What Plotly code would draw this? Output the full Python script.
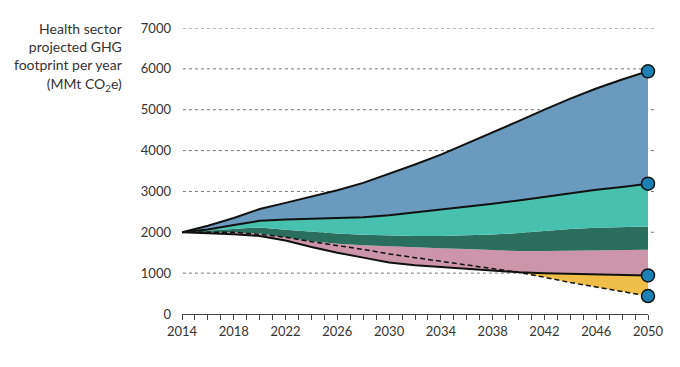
import numpy as np
import plotly.graph_objects as go

years = list(range(2014, 2051, 2))
total_bau = [2000, 2160, 2350, 2570, 2720, 2870, 3030, 3210, 3430, 3660, 3900, 4170, 4440, 4720, 5000, 5270, 5520, 5740, 5940]
teal_top = [2000, 2070, 2180, 2280, 2310, 2330, 2340, 2370, 2420, 2490, 2550, 2620, 2700, 2780, 2870, 2950, 3040, 3110, 3190]
dkgreen_top = [2000, 2040, 2090, 2120, 2060, 2010, 1970, 1940, 1920, 1910, 1910, 1920, 1945, 1980, 2030, 2080, 2110, 2130, 2140]
pink_top = [2000, 2000, 2000, 1970, 1870, 1780, 1720, 1680, 1660, 1630, 1610, 1590, 1560, 1540, 1545, 1550, 1560, 1570, 1575]
solid_low = [2000, 1980, 1950, 1910, 1800, 1640, 1500, 1380, 1260, 1195, 1150, 1100, 1060, 1020, 1000, 985, 970, 960, 945]
dashed = [2000, 2000, 2000, 1950, 1880, 1770, 1680, 1580, 1470, 1380, 1300, 1210, 1110, 1020, 900, 770, 660, 550, 440]

y_ticks = [0, 1000, 2000, 3000, 4000, 5000, 6000, 7000]
x_ticks = list(range(2014, 2051, 4))

base = np.minimum(np.array(dashed), np.array(solid_low)).tolist()

BLUE = "#6A9BBF"
TEAL = "#47C1AE"
DKGREEN = "#2A6E5E"
PINK = "#CD95A9"
YELLOW = "#EEBE48"
MARK = "#1B80B4"

fig = go.Figure()
nl = dict(width=0)
fig.add_trace(go.Scatter(x=years, y=base, mode="lines", line=nl, hoverinfo="skip", showlegend=False))
fig.add_trace(go.Scatter(x=years, y=solid_low, mode="lines", line=nl, fill="tonexty", fillcolor=YELLOW, showlegend=False))
fig.add_trace(go.Scatter(x=years, y=pink_top, mode="lines", line=nl, fill="tonexty", fillcolor=PINK, showlegend=False))
fig.add_trace(go.Scatter(x=years, y=dkgreen_top, mode="lines", line=nl, fill="tonexty", fillcolor=DKGREEN, showlegend=False))
fig.add_trace(go.Scatter(x=years, y=teal_top, mode="lines", line=nl, fill="tonexty", fillcolor=TEAL, showlegend=False))
fig.add_trace(go.Scatter(x=years, y=total_bau, mode="lines", line=nl, fill="tonexty", fillcolor=BLUE, showlegend=False))

fig.add_trace(go.Scatter(x=years, y=dashed, mode="lines", line=dict(color="#111", width=1.5, dash="5px,3px"), showlegend=False))
for series in (solid_low, teal_top, total_bau):
    fig.add_trace(go.Scatter(x=years, y=series, mode="lines", line=dict(color="#111", width=2), showlegend=False))

end_vals = [total_bau[-1], teal_top[-1], solid_low[-1], dashed[-1]]
fig.add_trace(go.Scatter(x=[years[-1]] * 4, y=end_vals, mode="markers", cliponaxis=False,
                         marker=dict(size=13, color=MARK, line=dict(color="#111", width=1.5)), showlegend=False))

for v in y_ticks[1:]:
    fig.add_shape(type="line", xref="paper", yref="y", x0=0.002, x1=1.016, y0=v, y1=v,
                  line=dict(color="#777", width=1, dash="dot"), layer="below")

fig.add_annotation(text="Health sector<br>projected GHG<br>footprint per year<br>(MMt CO<sub>2</sub>e)",
                   xref="paper", yref="paper", x=-0.124, y=1.035, xanchor="right", yanchor="top",
                   align="right", showarrow=False, font=dict(size=14, color="#333"))

fig.update_layout(
    width=672, height=359,
    margin=dict(l=174, r=32, t=17, b=53),
    paper_bgcolor="white", plot_bgcolor="white",
    font=dict(family="Lato, Open Sans, sans-serif", size=13, color="#333"),
    xaxis=dict(range=[2014, 2050], tickvals=x_ticks, showgrid=False, zeroline=False,
               showline=True, linecolor="#444", linewidth=1, ticks="outside", ticklen=5,
               tickcolor="#444", tickwidth=1,
               minor=dict(dtick=1, tick0=2014, ticks="outside", ticklen=5, tickcolor="#444", showgrid=False),
               tickfont=dict(size=13, color="#333")),
    yaxis=dict(range=[0, 7000], tickvals=y_ticks, showgrid=False, zeroline=False, showline=False,
               ticks="", ticklabelstandoff=10, tickfont=dict(size=13, color="#333")),
)

fig.write_html("out.html")
